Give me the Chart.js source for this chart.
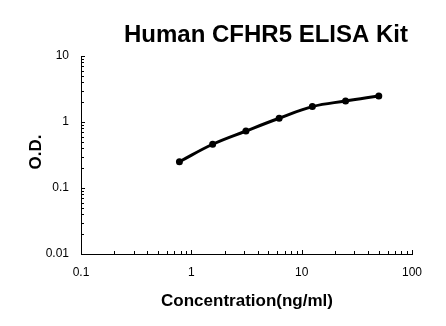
<!DOCTYPE html>
<html>
<head>
<meta charset="utf-8">
<script src="https://cdn.jsdelivr.net/npm/chart.js@4"></script>
<style>
  html, body { margin: 0; padding: 0; background: #fff; }
  #wrap { width: 446px; height: 326px; }
</style>
</head>
<body>
<div id="wrap"><canvas id="chart" width="446" height="326"></canvas></div>
<script>
// standard curve values
const concentrations = [0.78, 1.56, 3.125, 6.25, 12.5, 25, 50];
const odValues = [0.25, 0.46, 0.73, 1.14, 1.71, 2.08, 2.48];
const xTickValues = [0.1, 1, 10, 100];
const yTickValues = [0.01, 0.1, 1, 10];

const points = concentrations.map((c, i) => ({ x: c, y: odValues[i] }));

// inward minor/major ticks and texts like the original plot
const decorPlugin = {
  id: "decor",
  afterDraw(chart) {
    const ctx = chart.ctx;
    const xs = chart.scales.x, ys = chart.scales.y;
    const area = chart.chartArea;
    ctx.save();
    ctx.strokeStyle = "#000";
    ctx.lineWidth = 1;
    ctx.beginPath();
    for (let d = 0.1; d < 100; d *= 10) {
      for (let k = 1; k <= 10; k++) {
        const px = Math.round(xs.getPixelForValue(d * k)) + 0.5;
        const len = (k === 1 || k === 10) ? 4 : 3;
        ctx.moveTo(px, area.bottom);
        ctx.lineTo(px, area.bottom - len);
      }
    }
    for (let d = 0.01; d < 10; d *= 10) {
      for (let k = 1; k <= 10; k++) {
        const py = Math.round(ys.getPixelForValue(d * k)) + 0.5;
        const len = (k === 1 || k === 10) ? 4 : 3;
        ctx.moveTo(area.left, py);
        ctx.lineTo(area.left + len, py);
      }
    }
    ctx.stroke();

    ctx.fillStyle = "#000";
    ctx.textAlign = "center";
    ctx.textBaseline = "middle";
    ctx.font = "bold 24px 'Liberation Sans', Arial, sans-serif";
    ctx.fillText("Human CFHR5 ELISA Kit", 266, 35);
    ctx.font = "bold 17px 'Liberation Sans', Arial, sans-serif";
    ctx.fillText("Concentration(ng/ml)", 247, 301);
    ctx.translate(36, 152);
    ctx.rotate(-Math.PI / 2);
    ctx.fillText("O.D.", 0, 0);
    ctx.restore();
  }
};

new Chart(document.getElementById("chart").getContext("2d"), {
  type: "scatter",
  data: {
    datasets: [{
      data: points,
      showLine: true,
      borderColor: "#000",
      backgroundColor: "#000",
      borderWidth: 3,
      pointRadius: 2,
      pointHoverRadius: 2,
      tension: 0.4
    }]
  },
  options: {
    responsive: false,
    animation: false,
    events: [],
    layout: { padding: { left: 0, top: 56, right: 34, bottom: 0 } },
    plugins: { legend: { display: false }, tooltip: { enabled: false } },
    scales: {
      x: {
        type: "logarithmic",
        min: 0.1,
        max: 100,
        afterBuildTicks: s => { s.ticks = xTickValues.map(v => ({ value: v })); },
        afterFit: s => { s.height = 72; },
        grid: { display: false, drawTicks: false },
        border: { display: true, color: "#000", width: 1 },
        ticks: {
          padding: 11,
          color: "#000",
          font: { family: "'Liberation Sans', Arial, sans-serif", size: 12 },
          callback: v => String(v)
        }
      },
      y: {
        type: "logarithmic",
        min: 0.01,
        max: 10,
        afterBuildTicks: s => { s.ticks = yTickValues.map(v => ({ value: v })); },
        afterFit: s => { s.width = 81; },
        grid: { display: false, drawTicks: false },
        border: { display: true, color: "#000", width: 1 },
        ticks: {
          padding: 12,
          color: "#000",
          font: { family: "'Liberation Sans', Arial, sans-serif", size: 12 },
          callback: v => String(v)
        }
      }
    }
  },
  plugins: [decorPlugin]
});
</script>
</body>
</html>
